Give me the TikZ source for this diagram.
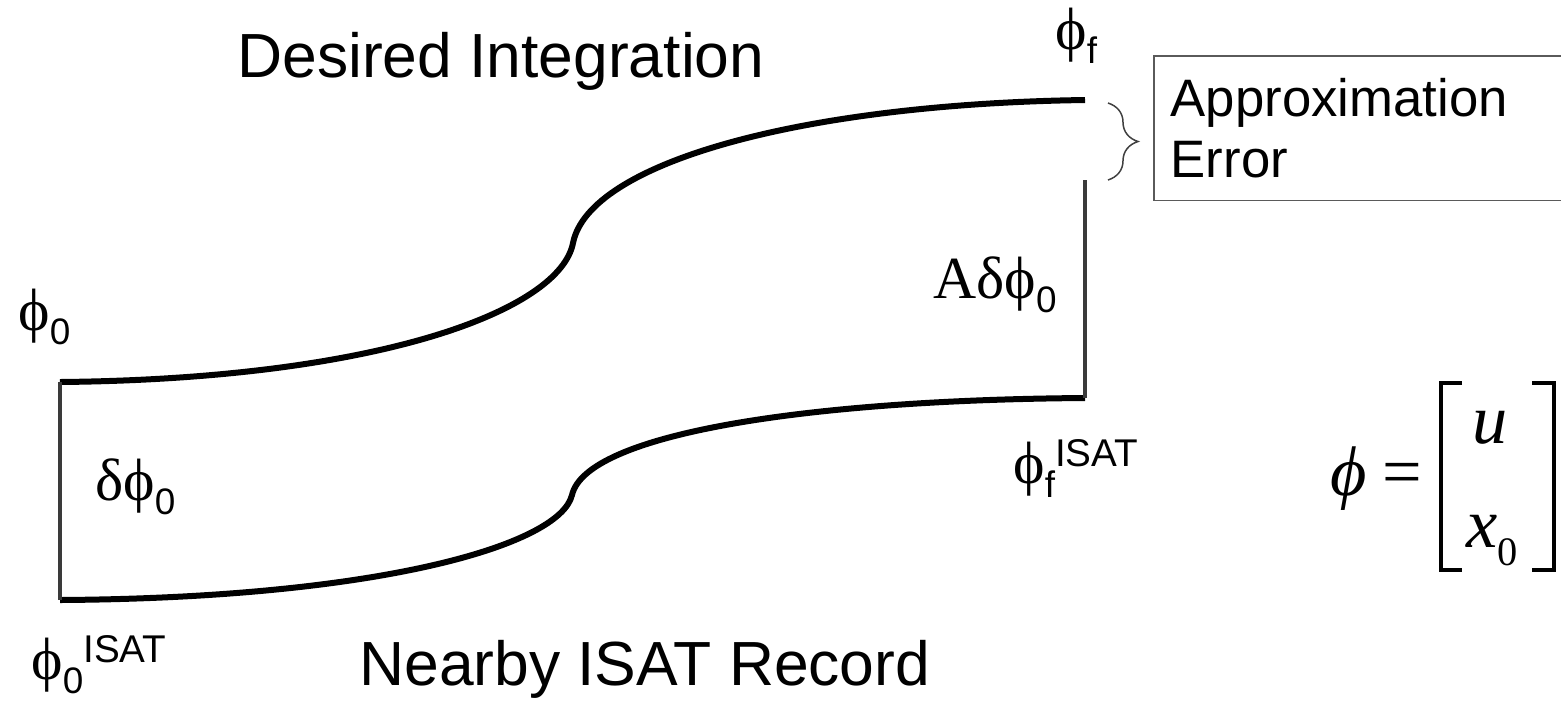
\documentclass[tikz,border=0pt]{standalone}
\usepackage{fontspec}
\setmainfont{Liberation Sans}
\newfontfamily\serifgr{Liberation Serif}
\usetikzlibrary{decorations.pathreplacing}
\definecolor{edgegray}{HTML}{3A3A3A}
\definecolor{boxgray}{HTML}{5A5A5A}
\definecolor{bracegray}{HTML}{404040}
\newcommand{\ph}{{\serifgr ϕ}}
\newcommand{\lo}[1]{\raisebox{-0.25em}{\fontsize{21}{21}\selectfont #1}}
\newcommand{\hi}[1]{\raisebox{0.28em}{\fontsize{22}{22}\selectfont #1}}
\begin{document}
\begin{tikzpicture}[x=0.02cm, y=-0.02cm,
    traj/.style={line width=0.12cm, black},
    gap/.style={line width=0.085cm, edgegray},
    title/.style={anchor=base west, inner sep=0pt, font=\fontsize{35.5}{42}\selectfont},
    lbl/.style={anchor=base west, inner sep=0pt, font=\fontsize{34}{40}\selectfont},
    mtx/.style={inner sep=0pt, font=\serifgr\fontsize{40}{48}\selectfont},
    brk/.style={line width=0.08cm, black},
    errbox/.style={draw=boxgray, line width=0.03cm, anchor=north west, align=left,
      text width=8.4cm, inner xsep=0.34cm, inner ysep=0.45cm,
      font=\fontsize{30}{34.7}\selectfont}]
  \useasboundingbox (0,0) rectangle (1561,701);
  \coordinate (p0) at (60,382);
  \coordinate (ps) at (573,243);
  \coordinate (pf) at (1085,100);
  \coordinate (pe) at (1085,180);
  \coordinate (q0) at (60,600);
  \coordinate (qs) at (572,495);
  \coordinate (qf) at (1085,398);
  \draw[traj] (p0) .. controls (380,379) and (560,310) .. (ps)
    .. controls (589,163) and (800,104) .. (pf);
  \draw[traj] (q0) .. controls (380,598) and (560,545) .. (qs)
    .. controls (586,435) and (800,400) .. (qf);
  \draw[gap] (p0) -- (q0);
  \draw[gap] (pe) -- (qf);
  \node[title] (want) at (237,77) {Desired Integration};
  \node[title] (rec) at (359,685) {Nearby ISAT Record};
  \node[lbl] (phi0) at (18,330) {\ph\lo{0}};
  \node[lbl] (dphi) at (95,500) {{\serifgr δ}\ph\lo{0}};
  \node[lbl] (adphi) at (933,298) {{\serifgr Aδ}\ph\lo{0}};
  \node[lbl] (phif) at (1055,49) {\ph\lo{f}};
  \node[lbl] (phifi) at (1013,483) {\ph\lo{f}\hi{ISAT}};
  \node[lbl] (phi0i) at (31,679) {\ph\lo{0}\hi{ISAT}};
  \draw[bracegray, line width=0.03cm, decorate, decoration={brace, amplitude=0.6cm}]
    (1108,103) -- (1108,180);
  \node[errbox] (err) at (1153,55) {Approximation\\Error};
  \node[mtx, anchor=base] (mphi) at (1349,495) {\itshape ϕ};
  \node[mtx, anchor=base] (meq) at (1402,495) {=};
  \node[mtx, anchor=base] (mu) at (1490,443) {\itshape u};
  \node[mtx, anchor=base west] (mx) at (1466,547)
    {\itshape x\upshape\raisebox{-0.26em}{\fontsize{23}{23}\selectfont 0}};
  \draw[brk] (1462,383) -- (1441,383) -- (1441,570) -- (1462,570);
  \draw[brk] (1532,383) -- (1554,383) -- (1554,570) -- (1532,570);
\end{tikzpicture}
\end{document}
